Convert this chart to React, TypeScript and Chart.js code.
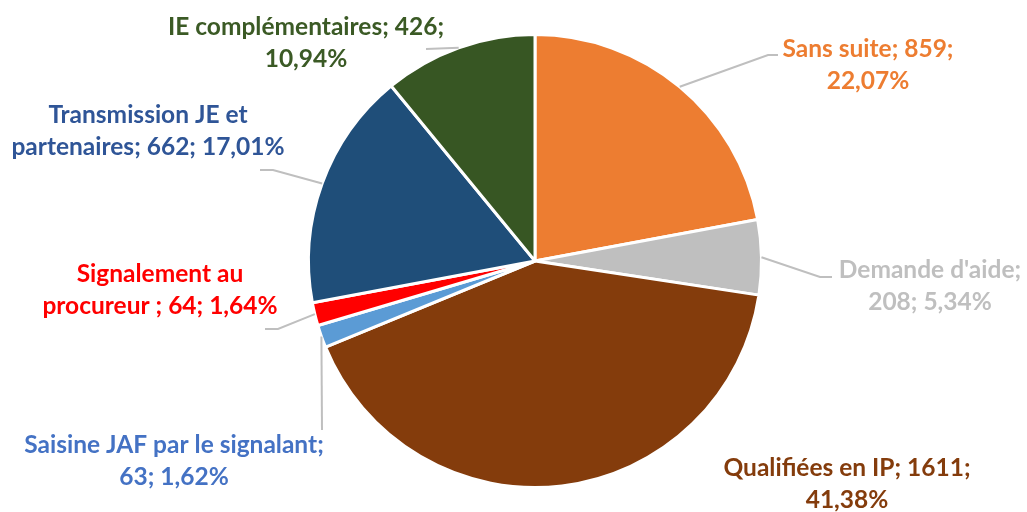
import React, { useEffect, useRef } from "react";
import { Chart, registerables } from "chart.js";

Chart.register(...registerables);

const categories = [
  "Sans suite",
  "Demande d'aide",
  "Qualifiées en IP",
  "Saisine JAF par le signalant",
  "Signalement au procureur ",
  "Transmission JE et partenaires",
  "IE complémentaires",
];
const values = [859, 208, 1611, 63, 64, 662, 426];
const percentLabels = ["22,07%", "5,34%", "41,38%", "1,62%", "1,64%", "17,01%", "10,94%"];
const firstLineWords = [3, 2, 4, 5, 2, 3, 3];

const sliceColors = ["#ED7D31", "#BFBFBF", "#843C0C", "#5B9BD5", "#FF0000", "#1F4E79", "#375623"];
const textColors = ["#ED7D31", "#BFBFBF", "#843C0C", "#4472C4", "#FF0000", "#2F5597", "#3B5A25"];

// label block centres (x, y of the block's middle)
const labelCenters: [number, number][] = [
  [868, 65],
  [930, 286],
  [847, 484],
  [174, 461],
  [160, 290],
  [148, 131],
  [306, 43],
];
// leader lines: elbow then end, or null
const leaderPaths: ([number, number][] | null)[] = [
  [[768, 55], [778, 55]],
  [[820, 277], [832, 277]],
  null,
  [[322, 430]],
  [[278, 329], [265, 329]],
  [[273, 170], [260, 170]],
  [[426, 49]],
];

const FONT_FAMILY = "Lato, 'Open Sans', sans-serif";
const FONT_SIZE = 24.5;
const LINE_HEIGHT = 32;

const labelPlugin = {
  id: "outerLabels",
  afterDatasetsDraw(chart: any) {
    const ctx = chart.ctx;
    const meta = chart.getDatasetMeta(0);
    ctx.save();
    meta.data.forEach((arc: any, i: number) => {
      const { x, y, startAngle, endAngle, outerRadius } = arc.getProps(
        ["x", "y", "startAngle", "endAngle", "outerRadius"],
        true
      );
      const mid = (startAngle + endAngle) / 2;
      const path = leaderPaths[i];
      if (path) {
        const sx = x + Math.cos(mid) * outerRadius;
        const sy = y + Math.sin(mid) * outerRadius;
        ctx.beginPath();
        ctx.moveTo(sx, sy);
        path.forEach((p) => ctx.lineTo(p[0], p[1]));
        ctx.strokeStyle = "#BFBFBF";
        ctx.lineWidth = 2;
        ctx.stroke();
      }
      const words = `${categories[i]}; ${values[i]}; ${percentLabels[i]}`.split(" ");
      const lines = [
        words.slice(0, firstLineWords[i]).join(" "),
        words.slice(firstLineWords[i]).join(" "),
      ];
      ctx.font = `bold ${FONT_SIZE}px ${FONT_FAMILY}`;
      ctx.fillStyle = textColors[i];
      ctx.textAlign = "center";
      ctx.textBaseline = "middle";
      const [cx, cy] = labelCenters[i];
      lines.forEach((ln, k) => {
        ctx.fillText(ln, cx, cy + (k - (lines.length - 1) / 2) * LINE_HEIGHT);
      });
    });
    ctx.restore();
  },
};

export default function App() {
  const ref = useRef<HTMLCanvasElement | null>(null);
  useEffect(() => {
    if (!ref.current) return;
    const chart = new Chart(ref.current, {
      type: "pie",
      data: {
        labels: categories,
        datasets: [
          {
            data: values,
            backgroundColor: sliceColors,
            borderColor: "#FFFFFF",
            borderWidth: 3,
          },
        ],
      },
      options: {
        responsive: false,
        animation: false,
        layout: { padding: { left: 307, right: 264, top: 33, bottom: 23 } },
        plugins: {
          legend: { display: false },
          tooltip: { enabled: false },
          title: { display: false },
        },
      },
      plugins: [labelPlugin],
    });
    return () => chart.destroy();
  }, []);
  return (
    <div style={{ position: "absolute", left: 0, top: 0, width: 1027, height: 512, background: "#fff" }}>
      <canvas ref={ref} width={1027} height={512} />
    </div>
  );
}
